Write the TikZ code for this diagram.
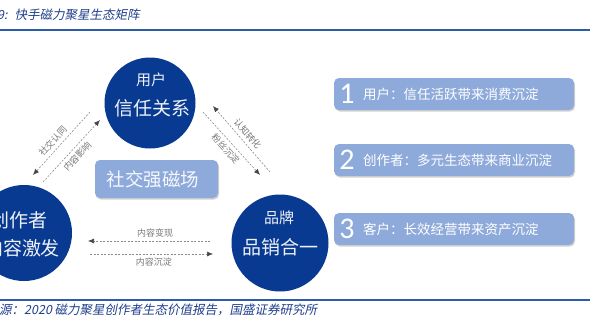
\documentclass[tikz,border=0pt]{standalone}
\usepackage{fontspec}
\setmainfont{Carlito}
\newfontfamily\cjk{Noto Sans CJK SC}
\newfontfamily\cjkit[FakeSlant=0.2]{Noto Sans CJK SC}
\newfontfamily\numfont{Carlito}
\usetikzlibrary{shadows,arrows.meta}
\definecolor{circblue}{RGB}{8,58,145}
\definecolor{boxblue}{RGB}{142,170,219}
\definecolor{titleblue}{RGB}{31,63,140}
\definecolor{rulecol}{RGB}{43,93,168}
\definecolor{arrowgray}{RGB}{140,140,140}
\definecolor{tipgray}{RGB}{70,70,70}
\definecolor{lblgray}{RGB}{120,120,120}
\begin{document}
\begin{tikzpicture}[x=1pt,y=-1pt,
  circ/.style={circle, fill=circblue, inner sep=0pt},
  ctxtsmall/.style={text=white!93!circblue, font=\cjk\fontsize{15}{16}\selectfont, inner sep=0pt},
  ctxtbig/.style={text=white!93!circblue, font=\cjk\fontsize{19}{20}\selectfont, inner sep=0pt},
  pill/.style={rounded corners=5pt, fill=boxblue, inner sep=0pt,
    drop shadow={shadow xshift=1pt, shadow yshift=-1.5pt, fill=black!40, opacity=0.45}},
  conn/.style={draw=arrowgray, line width=0.6pt, dash pattern=on 2pt off 1.5pt,
    -{Latex[length=6pt,width=5pt,color=tipgray]}},
  lbl/.style={font=\cjk\fontsize{9}{10}\selectfont, text=lblgray, inner sep=1pt},
  boxtxt/.style={font=\cjk\fontsize{13.5}{14}\selectfont, text=white, inner sep=0pt, anchor=west},
  numtxt/.style={font=\numfont\fontsize{30}{30}\selectfont, text=white, inner sep=0pt},
  captxt/.style={font=\cjkit\fontsize{12.5}{13}\selectfont, text=titleblue, inner sep=0pt, anchor=west}
]
\useasboundingbox (0,0) rectangle (590,330);
\fill[white] (0,0) rectangle (590,330);

% title and rules
\node[captxt] (title) at (-3,15) {9:\hspace{7pt}快手磁力聚星生态矩阵};
\draw[rulecol, line width=2pt] (0,30) -- (590,30);
\draw[rulecol, line width=1.2pt] (0,300) -- (590,300);
\node[captxt] (source) at (-1,310) {源：2020 磁力聚星创作者生态价值报告，国盛证券研究所};

% circles
\node[circ, minimum size=91pt] (user) at (150,103) {};
\node[ctxtsmall] (userA) at (151,80) {用户};
\node[ctxtbig] (userB) at (152,108) {信任关系};

\node[circ, minimum size=96pt] (creator) at (24,233) {};
\node[ctxtsmall, font=\cjk\fontsize{19}{20}\selectfont] (creatorA) at (19,220) {创作者};
\node[ctxtbig] (creatorB) at (22,248) {内容激发};

\node[circ, minimum size=97pt] (brand) at (280,243) {};
\node[ctxtsmall] (brandA) at (279,218) {品牌};
\node[ctxtbig] (brandB) at (280,247) {品销合一};

% centre box
\node[pill, minimum width=123pt, minimum height=38pt] (hub) at (156.5,179) {};
\node[font=\cjk\fontsize{18.5}{19}\selectfont, text=white!92!boxblue, inner sep=0pt] (hubtxt) at (153,179) {社交强磁场};

% right boxes
\node[pill, minimum width=240pt, minimum height=32pt] (b1) at (454,94) {};
\node[numtxt] (n1) at (347,94) {1};
\node[boxtxt] (t1) at (363,94) {用户：信任活跃带来消费沉淀};

\node[pill, minimum width=240pt, minimum height=32pt] (b2) at (454,160) {};
\node[numtxt] (n2) at (347,160) {2};
\node[boxtxt] (t2) at (363,160) {创作者：多元生态带来商业沉淀};

\node[pill, minimum width=240pt, minimum height=32pt] (b3) at (454,229) {};
\node[numtxt] (n3) at (347,229) {3};
\node[boxtxt] (t3) at (363,229) {客户：长效经营带来资产沉淀};

% connector end points
\coordinate (l1s) at (90,112);
\coordinate (l1e) at (33,175);
\coordinate (l2s) at (43,182);
\coordinate (l2e) at (100,120);
\coordinate (r1s) at (270,172);
\coordinate (r1e) at (213,106);
\coordinate (r2s) at (203,112);
\coordinate (r2e) at (260,175);
\coordinate (d1s) at (210,241);
\coordinate (d1e) at (88,241);
\coordinate (d2s) at (90,254);
\coordinate (d2e) at (213,254);

\draw[conn] (l1s) -- node[lbl, sloped, above=2.5pt, pos=0.55] (la) {社交认同} (l1e);
\draw[conn] (l2s) -- node[lbl, sloped, below=2.5pt, pos=0.5] (lb) {内容影响} (l2e);
\draw[conn] (r1s) -- node[lbl, sloped, above=2.5pt, pos=0.5] (ra) {认知转化} (r1e);
\draw[conn] (r2s) -- node[lbl, sloped, below=2.5pt, pos=0.5] (rb) {粉丝沉淀} (r2e);
\draw[conn] (d1s) -- node[lbl, above=2.5pt, pos=0.45] (da) {内容变现} (d1e);
\draw[conn] (d2s) -- node[lbl, below=2.5pt, pos=0.52] (db) {内容沉淀} (d2e);
\end{tikzpicture}
\end{document}
